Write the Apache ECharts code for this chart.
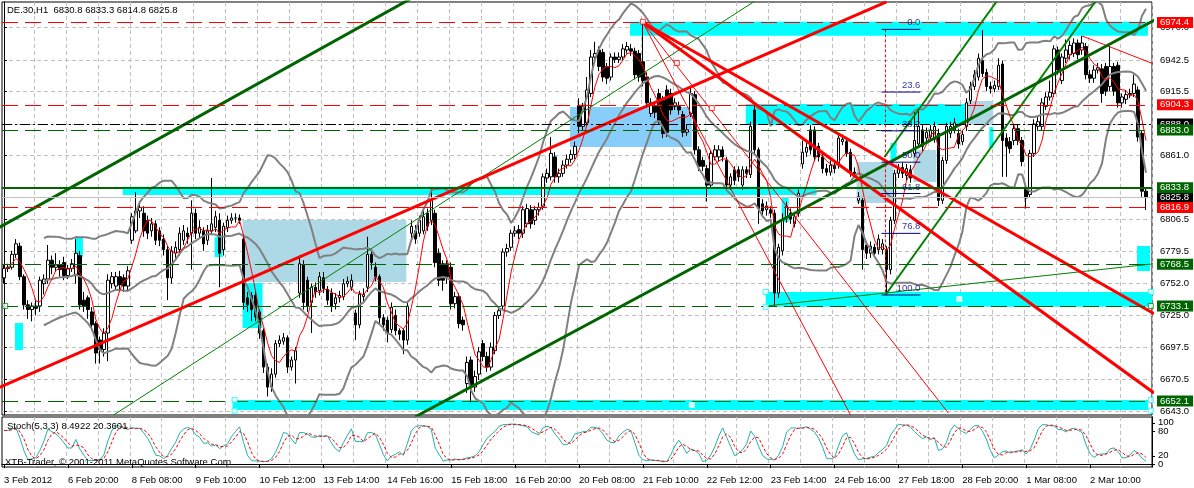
<!DOCTYPE html>
<html><head><meta charset="utf-8">
<script src="https://cdn.jsdelivr.net/npm/echarts@6/dist/echarts.min.js"></script>
<style>html,body{margin:0;padding:0;background:#fff}#c{width:1194px;height:488px}</style>
</head><body><div id="c"></div><script>
// ---------- DATA (DE.30, H1) ----------
const opens = [6757,6765,6766,6777,6784,6758,6734,6730,6733,6733,
6752,6756,6772,6766,6768,6770,6759,6765,6760,6776,
6738,6740,6728,6718,6704,6696,6710,6752,6750,6758,
6757,6750,6789,6797,6814,6812,6806,6797,6803,6797,
6790,6781,6757,6778,6781,6789,6795,6795,6812,6795,
6797,6789,6797,6800,6806,6781,6800,6806,6808,6808,
6790,6740,6742,6742,6728,6712,6681,6664,6675,6701,
6703,6706,6681,6687,6744,6768,6755,6736,6749,6746,
6757,6747,6744,6735,6740,6741,6752,6749,6727,6717,
6741,6749,6777,6766,6758,6723,6721,6713,6725,6712,
6712,6704,6795,6797,6795,6797,6812,6806,6812,6778,
6769,6769,6766,6735,6741,6721,6667,6687,6664,6675,
6701,6690,6681,6695,6725,6733,6779,6783,6795,6798,
6795,6803,6815,6806,6815,6818,6842,6843,6860,6843,
6846,6853,6858,6862,6904,6886,6889,6914,6945,6951,
6949,6937,6928,6945,6943,6945,6951,6952,6950,6948,
6941,6928,6897,6903,6914,6908,6917,6914,6903,6903,
6896,6881,6897,6913,6866,6857,6850,6836,6860,6860,
6866,6857,6836,6849,6849,6836,6849,6845,6900,6866,
6820,6815,6815,6812,6744,6780,6808,6812,6803,6812,
6854,6864,6883,6883,6869,6860,6850,6847,6853,6853,
6873,6873,6864,6847,6823,6823,6785,6778,6783,6781,
6781,6781,6764,6806,6846,6851,6844,6849,6863,6871,
6883,6876,6877,6875,6880,6823,6857,6880,6883,6880,
6873,6886,6908,6920,6928,6942,6932,6920,6918,6920,
6939,6876,6873,6874,6884,6874,6833,6828,6863,6886,
6886,6903,6911,6914,6951,6925,6944,6947,6948,6957,
6951,6954,6930,6927,6934,6935,6937,6920,6937,6938,
6906,6909,6913,6914,6917,6880,6830.8];
const closes = [6765,6766,6777,6786,6758,6734,6730,6733,6731,6755,
6756,6772,6766,6768,6764,6759,6765,6769,6778,6734,
6733,6730,6717,6693,6696,6710,6755,6758,6758,6751,
6750,6763,6809,6814,6817,6797,6795,6803,6789,6789,
6781,6757,6780,6783,6795,6797,6792,6812,6795,6800,
6786,6797,6803,6809,6778,6801,6806,6808,6808,6806,
6736,6734,6730,6724,6710,6681,6664,6675,6701,6704,
6706,6681,6687,6695,6769,6736,6733,6749,6745,6758,
6748,6738,6733,6740,6742,6752,6754,6755,6717,6743,
6743,6777,6770,6758,6723,6717,6710,6732,6712,6709,
6704,6733,6801,6790,6806,6809,6801,6823,6770,6755,
6755,6758,6735,6741,6718,6717,6685,6664,6673,6694,
6690,6681,6698,6725,6729,6779,6782,6795,6797,6795,
6815,6816,6803,6815,6817,6843,6846,6863,6843,6846,
6853,6858,6862,6869,6886,6903,6917,6945,6948,6937,
6928,6927,6945,6943,6945,6952,6954,6950,6930,6928,
6925,6906,6906,6898,6891,6880,6881,6900,6906,6900,
6881,6883,6914,6866,6852,6852,6836,6863,6866,6866,
6860,6836,6843,6840,6843,6849,6846,6886,6866,6816,
6814,6818,6812,6744,6783,6806,6818,6807,6809,6829,
6864,6868,6866,6860,6860,6850,6847,6853,6850,6876,
6875,6863,6847,6846,6826,6781,6778,6784,6778,6790,
6786,6764,6806,6846,6850,6846,6850,6842,6874,6886,
6869,6881,6883,6886,6823,6857,6886,6886,6889,6871,
6879,6906,6920,6930,6944,6931,6920,6918,6921,6938,
6874,6869,6867,6884,6874,6856,6825,6863,6888,6890,
6906,6911,6915,6952,6934,6945,6951,6955,6957,6947,
6957,6930,6927,6934,6936,6914,6916,6937,6916,6906,
6911,6913,6914,6922,6877,6830.8,6825.8];
const highs = [6768,6769,6780,6790,6787,6760,6738,6736,6738,6758,
6760,6785,6776,6778,6772,6775,6768,6773,6790,6780,
6745,6742,6732,6720,6707,6714,6760,6762,6762,6763,
6760,6767,6812,6830,6822,6818,6810,6808,6806,6800,
6794,6784,6784,6788,6800,6802,6800,6823,6816,6806,
6800,6802,6842,6814,6812,6804,6810,6812,6812,6811,
6794,6745,6745,6746,6730,6714,6684,6680,6704,6708,
6710,6708,6690,6698,6776,6772,6758,6752,6753,6762,
6762,6750,6748,6744,6746,6756,6758,6760,6730,6746,
6748,6792,6780,6770,6760,6726,6724,6736,6730,6714,
6714,6736,6806,6802,6810,6814,6816,6834,6815,6782,
6772,6772,6770,6745,6744,6724,6690,6690,6678,6698,
6704,6694,6702,6728,6733,6782,6786,6798,6801,6802,
6818,6820,6819,6818,6821,6846,6850,6877,6864,6850,
6857,6862,6866,6873,6910,6906,6928,6951,6958,6954,
6952,6940,6948,6949,6949,6956,6958,6956,6953,6951,
6975,6932,6910,6907,6918,6912,6921,6918,6910,6907,
6899,6887,6920,6916,6869,6860,6853,6866,6870,6870,
6869,6860,6846,6852,6852,6852,6852,6890,6906,6868,
6824,6822,6818,6815,6786,6812,6822,6816,6813,6832,
6874,6873,6887,6886,6872,6863,6854,6857,6856,6880,
6879,6877,6867,6851,6830,6826,6788,6788,6786,6794,
6790,6784,6809,6849,6854,6855,6854,6853,6900,6900,
6887,6885,6887,6890,6884,6860,6889,6890,6893,6884,
6883,6910,6924,6934,6948,6968,6935,6924,6925,6944,
6942,6880,6877,6888,6888,6877,6836,6866,6892,6894,
6910,6915,6925,6955,6954,6948,6960,6959,6961,6960,
6963,6957,6934,6938,6940,6939,6940,6954,6940,6941,
6914,6917,6918,6930,6920,6882,6833.3];
const lows = [6752,6762,6764,6774,6755,6730,6722,6720,6725,6728,
6743,6752,6760,6762,6758,6755,6756,6762,6752,6730,
6728,6722,6712,6684,6684,6690,6686,6748,6746,6747,
6745,6746,6786,6795,6808,6792,6790,6792,6785,6784,
6776,6738,6752,6774,6776,6785,6786,6764,6790,6790,
6780,6785,6794,6796,6749,6776,6796,6803,6804,6803,
6730,6728,6720,6720,6705,6676,6656,6660,6672,6698,
6700,6676,6678,6667,6740,6730,6728,6710,6740,6742,
6744,6734,6728,6730,6736,6738,6749,6746,6704,6714,
6737,6745,6764,6754,6718,6712,6702,6710,6708,6704,
6692,6700,6790,6786,6792,6794,6797,6802,6766,6750,
6746,6752,6730,6731,6714,6712,6659,6651,6660,6670,
6686,6677,6678,6692,6722,6730,6775,6780,6792,6790,
6791,6800,6799,6802,6810,6815,6838,6840,6838,6838,
6843,6850,6855,6858,6880,6882,6886,6911,6942,6933,
6924,6922,6925,6940,6940,6942,6948,6946,6926,6924,
6920,6902,6894,6893,6888,6876,6877,6896,6900,6896,
6877,6878,6894,6862,6848,6848,6822,6833,6857,6856,
6856,6832,6832,6836,6839,6832,6842,6842,6862,6803,
6810,6810,6808,6733,6740,6776,6804,6803,6800,6809,
6850,6860,6862,6856,6856,6846,6844,6844,6846,6850,
6870,6860,6843,6842,6820,6764,6773,6774,6774,6777,
6777,6744,6760,6803,6842,6842,6840,6838,6860,6868,
6865,6872,6874,6872,6818,6820,6854,6876,6880,6867,
6870,6882,6905,6917,6925,6928,6916,6914,6915,6917,
6843,6843,6863,6870,6870,6852,6816,6825,6860,6883,
6882,6900,6908,6911,6930,6922,6940,6943,6945,6943,
6947,6926,6923,6923,6931,6906,6912,6916,6912,6902,
6902,6905,6910,6911,6873,6826,6814.8];

const xLabels = ['3 Feb 2012','6 Feb 20:00','8 Feb 08:00','9 Feb 10:00','10 Feb 12:00','13 Feb 14:00',
  '14 Feb 16:00','15 Feb 18:00','16 Feb 20:00','20 Feb 08:00','21 Feb 10:00','22 Feb 12:00',
  '23 Feb 14:00','24 Feb 16:00','27 Feb 18:00','28 Feb 20:00','1 Mar 08:00','2 Mar 10:00'];
const priceTicks = [6643.0,6670.5,6697.5,6725.0,6752.0,6779.5,6806.5,6834.0,6861.0,6888.0,6915.5,6942.5,6970.0];
const stochLevelTicks = [20,80];
const stochEdgeTicks = [0,100];

// horizontal levels
const redLevels = [6974.4, 6904.3, 6816.9];
const blackLevels = [6888.0];
const greenLevels = [6883.0, 6768.5, 6733.1, 6652.1];
const supportLevels = [6833.8];
const bidPrice = [6825.8];

// zones [barFrom, priceTop, barTo, priceBottom]
const cyanZones = [[156.75,6975.1,286.5,6963.2],[29.75,6834.5,203.5,6827.5],[2.75,6718.5,4.75,6695.5],
  [17.75,6791.8,19.75,6774.7],[52.75,6791.8,54.75,6774.7],[59.75,6752.6,64.75,6714.3],
  [57.25,6653.0,286.5,6644.5],[185.75,6905.0,240.75,6887.2],[190.75,6744.9,287.5,6732.3],
  [283.75,6784.1,287,6762.8],[222,6871.8,223.5,6857.3],[246.75,6885.4,247.75,6867.6],
  [194.75,6825.8,196.5,6804.5]];
const lightBlueZones = [[59.75,6806.2,100.75,6753.4],[240.75,6907.6,247.75,6887.2],
  [213.5,6855.6,222.75,6820.7],[227.75,6865.9,233.5,6838.6]];
const skyBlueZones = [[141.75,6902.5,172.25,6868.4]];

// trend lines: [[bar, price],[bar, price]]
const greenThickLines = [[[-2,6798.4],[102,6995.0]],[[103,6638.7],[289,6978.1]]];
const greenMidLines = [[[220.5,6859.9],[248.5,6991.9]],[[220.75,6742.4],[273.25,6991.9]]];
const greenThinLines = [[[27.5,6640.3],[188,6992.6]],[[190.75,6733.0],[288,6769.0]]];
const redThickLines = [[[-2,6662.5],[221,6992.1]],[[160,6974.4],[288,6726.4]],[[160,6974.4],[288,6659.0]]];
const redThinLines = [[[160,6974.4],[212,6640.2]],[[160,6974.4],[236.5,6641.9]],[[270,6963.0],[288,6939.0]]];

// fibonacci
const fibLevels = [0.0, 23.6, 38.2, 50.0, 61.8, 76.8, 100.0];
const fibHigh = 6968.6, fibLow = 6742.4, fibFrom = 219.75, fibTo = 229.5, fibAnchor = 220.75;

// object anchor squares
const redSquares = [[160,6975.1],[168.5,6940.0],[177.25,6901.6]];
const cyanSquares = [[57.75,6652.9],[57.75,6643.9],[190.75,6744.9],[190.75,6732.3],[287.2,6744.9],[287.2,6652.9],[287.2,6643.9]];
const greenSquares = [[0.3,6733.1],[287.2,6733.1]];
const whiteDots = [[172.25,6648.7],[239.25,6739.0]];

// ---------- INDICATORS (computed from the OHLC above) ----------
const N = closes.length, SLOTS = 288;
const cats = Array.from({length: SLOTS}, (_, i) => String(i));
function smaArr(arr, n, start) {
  return arr.map((_, i) => {
    if (i < start) return null;
    const s = Math.max(0, i - n + 1), w = arr.slice(s, i + 1).filter(v => v != null);
    return w.reduce((a, b) => a + b, 0) / w.length;
  });
}
function bands(arr, n, k, start) {
  const up = [], mid = [], lo = [];
  arr.forEach((_, i) => {
    if (i < start) { up.push(null); mid.push(null); lo.push(null); return; }
    const w = arr.slice(Math.max(0, i - n + 1), i + 1);
    const m = w.reduce((a, b) => a + b, 0) / w.length;
    const sd = Math.sqrt(w.reduce((a, b) => a + (b - m) * (b - m), 0) / w.length);
    mid.push(m); up.push(m + k * sd); lo.push(m - k * sd);
  });
  return {up, mid, lo};
}
const bb = bands(closes, 20, 2, 10);
const ma = smaArr(closes, 5, 0);
// Stochastic(5,3,3)
const ll = lows.map((_, i) => Math.min(...lows.slice(Math.max(0, i - 4), i + 1)));
const hh = highs.map((_, i) => Math.max(...highs.slice(Math.max(0, i - 4), i + 1)));
const stK = closes.map((_, i) => {
  let num = 0, den = 0;
  for (let j = Math.max(0, i - 2); j <= i; j++) { num += closes[j] - ll[j]; den += hh[j] - ll[j]; }
  return den ? 100 * num / den : 50;
});
const stD = smaArr(stK, 3, 0);

// ---------- CHART ----------
const F = 'Liberation Sans, Arial, sans-serif';
const FS = 9.5;
const GRIDC = '#c0c0c0';
const candleData = opens.map((o, i) => [o, closes[i], lows[i], highs[i]]);

function levelSeries(vals, lineStyle, bg) {
  return {type: 'line', xAxisIndex: 1, yAxisIndex: 0, data: [], silent: true, z: 6,
    markLine: {silent: true, symbol: ['none', 'none'], z: 6, animation: false,
      lineStyle: lineStyle,
      label: {show: bg != null, position: 'end', distance: 5, formatter: p => Number(p.value).toFixed(1),
        color: '#fff', backgroundColor: bg, padding: [1, 4, 0, 3], fontSize: FS, lineHeight: 10, fontFamily: F},
      data: vals.map(v => ({yAxis: v}))}};
}
function zoneSeries(zs, color) {
  return {type: 'line', xAxisIndex: 1, yAxisIndex: 0, data: [], silent: true,
    markArea: {silent: true, z: 1, itemStyle: {color: color}, animation: false,
      data: zs.map(z => [{xAxis: z[0], yAxis: z[1]}, {xAxis: z[2], yAxis: z[3]}])}};
}
function lineSeries(lines, color, width, type, z) {
  return lines.map(l => ({type: 'line', xAxisIndex: 1, yAxisIndex: 0, data: l, symbol: 'none', silent: true,
    clip: true, z: z || 5, lineStyle: {color: color, width: width, type: type || 'solid'}}));
}
function squareSeries(pts, border, fill) {
  return {type: 'scatter', xAxisIndex: 1, yAxisIndex: 0, data: pts, symbol: 'rect', symbolSize: 5, silent: true, z: 7,
    itemStyle: {color: fill || '#fff', borderColor: border, borderWidth: 1}};
}
const fibPrice = l => fibHigh - (fibHigh - fibLow) * l / 100;

const series = [
  // horizontal grid lines
  {type: 'line', xAxisIndex: 1, yAxisIndex: 0, data: [], silent: true, z: 0,
   markLine: {silent: true, z: 0, symbol: ['none', 'none'], label: {show: false}, animation: false,
     lineStyle: {color: GRIDC, type: [4, 3], width: 1}, data: priceTicks.map(v => ({yAxis: v}))}},
  zoneSeries(cyanZones, '#00ffff'),
  zoneSeries(lightBlueZones, '#add8e6'),
  zoneSeries(skyBlueZones, '#87cefa'),
  {type: 'candlestick', xAxisIndex: 0, yAxisIndex: 0, data: candleData, barWidth: 3, z: 3, silent: true,
   itemStyle: {color: '#fff', color0: '#000', borderColor: '#000', borderColor0: '#000', borderWidth: 1}},
  {type: 'line', xAxisIndex: 0, yAxisIndex: 0, data: bb.up, symbol: 'none', z: 4, silent: true, lineStyle: {color: '#808080', width: 2}},
  {type: 'line', xAxisIndex: 0, yAxisIndex: 0, data: bb.mid, symbol: 'none', z: 4, silent: true, lineStyle: {color: '#808080', width: 2}},
  {type: 'line', xAxisIndex: 0, yAxisIndex: 0, data: bb.lo, symbol: 'none', z: 4, silent: true, lineStyle: {color: '#808080', width: 2}},
  {type: 'line', xAxisIndex: 0, yAxisIndex: 0, data: ma, symbol: 'none', z: 4, silent: true, lineStyle: {color: '#ff0000', width: 1}},
  ...lineSeries(greenThinLines, '#008000', 1),
  ...lineSeries(redThinLines, '#ff0000', 1),
  ...lineSeries(greenMidLines, '#008000', 2),
  ...lineSeries(greenThickLines, '#006400', 3),
  ...lineSeries(redThickLines, '#ff0000', 3),
  // fibonacci
  ...lineSeries(fibLevels.map(l => [[fibFrom, fibPrice(l)], [fibTo, fibPrice(l)]]), '#000080', 1, 'solid', 6),
  ...lineSeries([[[fibAnchor, fibHigh], [fibAnchor, fibLow]]], '#ff0000', 1, [3, 2], 6),
  {type: 'scatter', xAxisIndex: 1, yAxisIndex: 0, silent: true, z: 8, symbol: 'circle', symbolSize: 1,
   itemStyle: {color: 'rgba(0,0,0,0)'},
   data: fibLevels.map(l => [fibTo, fibPrice(l), l.toFixed(1)]),
   label: {show: true, position: 'top', align: 'right', distance: 1, formatter: p => p.data[2],
     color: '#000080', fontSize: FS, fontFamily: F}},
  // horizontal levels with price tags
  levelSeries(bidPrice, {color: '#c0c0c0', width: 1, type: 'solid'}, '#000'),
  levelSeries(supportLevels, {color: '#006400', width: 2, type: 'solid'}, '#006400'),
  levelSeries(redLevels, {color: '#ff0000', width: 1, type: [16, 7]}, '#ff0000'),
  levelSeries(blackLevels, {color: '#000', width: 1, type: [10, 3, 2, 3]}, '#000'),
  levelSeries(greenLevels, {color: '#006400', width: 1, type: [16, 7]}, '#006400'),
  squareSeries(redSquares, '#ff0000'),
  squareSeries(cyanSquares, '#00ffff'),
  squareSeries(greenSquares, '#008000'),
  squareSeries(whiteDots, '#ffffff'),
  // stochastic
  {type: 'line', xAxisIndex: 2, yAxisIndex: 1, data: stK, symbol: 'none', silent: true, z: 4, lineStyle: {color: '#20b2aa', width: 1}},
  {type: 'line', xAxisIndex: 2, yAxisIndex: 1, data: stD, symbol: 'none', silent: true, z: 4, lineStyle: {color: '#ff0000', width: 1, type: [3, 2]}}
];

const splitV = {show: true, interval: (i) => i > 0 && i % 8 === 0, lineStyle: {color: GRIDC, type: [4, 3], width: 1}};
const txt = {fontSize: FS, fontWeight: 'normal', color: '#000', fontFamily: F};
const stochAxis = (ticks) => ({type: 'value', gridIndex: 1, position: 'right', offset: 0, min: -7, max: 114,
  axisLine: {show: true, lineStyle: {color: '#000'}},
  axisTick: {show: true, length: 3, customValues: ticks, lineStyle: {color: '#000'}},
  axisLabel: {customValues: ticks, formatter: v => String(v), fontSize: FS, color: '#000', margin: 6, fontFamily: F},
  splitLine: {show: false}});
const option = {
  animation: false,
  backgroundColor: '#fff',
  textStyle: {fontFamily: F},
  title: [
    {text: 'DE.30,H1  6830.8 6833.3 6814.8 6825.8', left: 7, top: 5, padding: 0, textStyle: txt},
    {text: 'Stoch(5,3,3) 8.4922 20.3601', left: 7, top: 421, padding: 0, textStyle: txt},
    {text: 'XTB-Trader, \u00a9 2001-2011 MetaQuotes Software Corp.', left: 5, top: 457, padding: 0, textStyle: txt}
  ],
  grid: [
    {left: 2, top: 2, width: 1150, height: 413, show: true, borderColor: '#000', borderWidth: 1, backgroundColor: 'transparent'},
    {left: 2, top: 417, width: 1150, height: 50, show: true, borderColor: '#000', borderWidth: 1, backgroundColor: 'transparent'}
  ],
  xAxis: [
    {type: 'category', gridIndex: 0, data: cats, boundaryGap: true, axisLine: {show: false}, axisTick: {show: false},
     axisLabel: {show: false}, splitLine: splitV},
    {type: 'value', gridIndex: 0, min: -0.5, max: SLOTS - 0.5, show: false},
    {type: 'category', gridIndex: 1, data: cats, boundaryGap: true,
     axisLine: {show: true, lineStyle: {color: '#000'}},
     axisTick: {show: true, interval: (i) => i % 16 === 0, alignWithLabel: true, length: 4, lineStyle: {color: '#000'}},
     axisLabel: {show: true, interval: (i) => i % 16 === 0, formatter: (v, i) => xLabels[i / 16] || '',
       align: 'left', fontSize: FS, color: '#000', margin: 8, fontFamily: F},
     splitLine: splitV}
  ],
  yAxis: [
    {type: 'value', gridIndex: 0, position: 'right', min: 6640.2, max: 6991.9,
     axisLine: {show: true, lineStyle: {color: '#000'}},
     axisTick: {show: true, length: 3, customValues: priceTicks, lineStyle: {color: '#000'}},
     axisLabel: {customValues: priceTicks, formatter: v => Number(v).toFixed(1), fontSize: FS, color: '#000', margin: 8, fontFamily: F},
     splitLine: {show: false}},
    stochAxis(stochLevelTicks),
    stochAxis(stochEdgeTicks)
  ],
  series: series
};
const chart = echarts.init(document.getElementById('c'), null, {renderer: 'canvas'});
chart.setOption(option);
</script></body></html>
